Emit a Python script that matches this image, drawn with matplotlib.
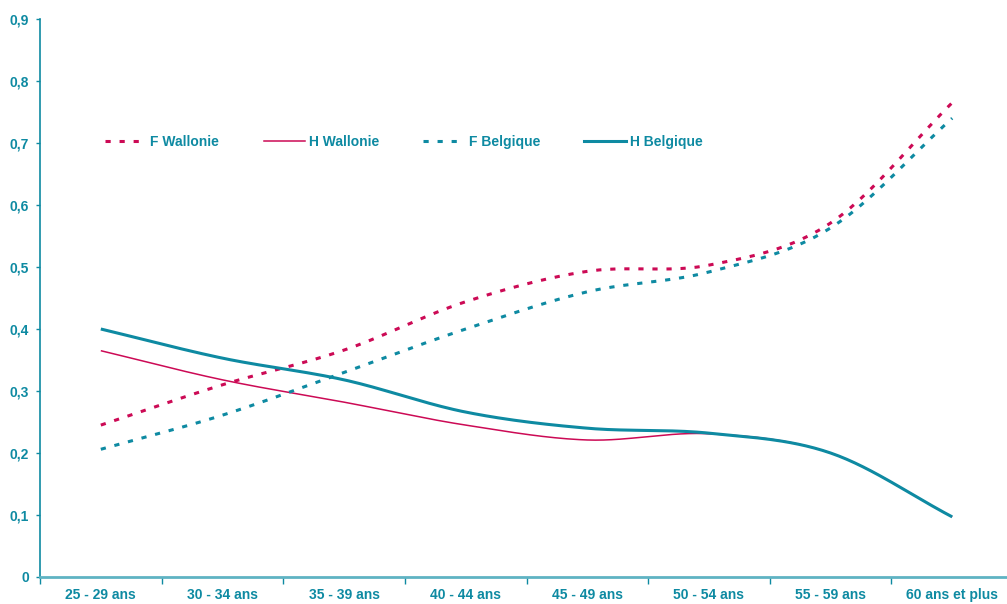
import numpy as np
import matplotlib
matplotlib.use("Agg")
import matplotlib.pyplot as plt
from matplotlib.lines import Line2D

plt.rcParams['font.family'] = ['Liberation Sans Narrow', 'Liberation Sans', 'DejaVu Sans']

# age groups and ratios per series
categories = ["25 - 29 ans", "30 - 34 ans", "35 - 39 ans", "40 - 44 ans",
              "45 - 49 ans", "50 - 54 ans", "55 - 59 ans", "60 ans et plus"]
f_wallonie = [0.245, 0.31, 0.366, 0.444, 0.493, 0.503, 0.571, 0.765]
h_wallonie = [0.365, 0.318, 0.282, 0.245, 0.221, 0.231, 0.200, 0.097]
f_belgique = [0.206, 0.261, 0.330, 0.400, 0.460, 0.492, 0.563, 0.740]
h_belgique = [0.400, 0.353, 0.318, 0.266, 0.240, 0.232, 0.200, 0.097]
y_ticks = [0, 0.1, 0.2, 0.3, 0.4, 0.5, 0.6, 0.7, 0.8, 0.9]

TEAL = "#0E8AA2"
RED = "#CC0A55"


def smooth(xs, ys, n=30):
    # Catmull-Rom curve through the points, like office chart smoothing
    p = np.column_stack([xs, ys]).astype(float)
    p = np.vstack([2 * p[0] - p[1], p, 2 * p[-1] - p[-2]])
    out = []
    t = np.linspace(0, 1, n, endpoint=False)[:, None]
    for i in range(1, len(p) - 2):
        p0, p1, p2, p3 = p[i - 1], p[i], p[i + 1], p[i + 2]
        seg = 0.5 * ((2 * p1) + (-p0 + p2) * t + (2 * p0 - 5 * p1 + 4 * p2 - p3) * t ** 2
                     + (-p0 + 3 * p1 - 3 * p2 + p3) * t ** 3)
        out.append(seg)
    out.append(p[-2][None, :])
    out = np.vstack(out)
    return out[:, 0], out[:, 1]


fig = plt.figure(figsize=(10.07, 6.04), dpi=100)
ax = fig.add_axes([40 / 1007, 27 / 604, 973 / 1007, 558 / 604])

x = np.arange(len(categories))
dash = (0, (1.7, 2.9))
series = [
    (f_wallonie, RED, 2.2, dash, "F Wallonie"),
    (h_wallonie, RED, 1.1, "-", "H Wallonie"),
    (f_belgique, TEAL, 2.2, dash, "F Belgique"),
    (h_belgique, TEAL, 2.2, "-", "H Belgique"),
]
handles = []
for ys, col, lw, ls, lab in series:
    sx, sy = smooth(x, ys)
    ax.plot(sx, sy, color=col, lw=lw, ls=ls, solid_capstyle="butt", dash_capstyle="butt")
    handles.append(Line2D([], [], color=col, lw=lw, ls=ls, label=lab))

ax.set_xlim(-0.5, len(categories) - 0.5)
ax.set_ylim(0, 0.9)
ax.set_yticks(y_ticks)
ax.set_yticklabels([("%g" % v).replace(".", ",") for v in y_ticks])

ax.set_xticks(np.arange(len(categories) + 1) - 0.5)
ax.set_xticklabels([])
ax.set_xticks(x, minor=True)
ax.set_xticklabels(categories, minor=True)
ax.tick_params(axis="x", which="minor", length=0, pad=8)
ax.tick_params(axis="x", which="major", length=5, width=1, color=TEAL, direction="out")
ax.tick_params(axis="y", length=3, width=1, color=TEAL, direction="out", pad=5)

for lab in ax.get_xticklabels(minor=True) + ax.get_yticklabels():
    lab.set_color(TEAL)
    lab.set_fontweight("bold")
    lab.set_fontsize(10)

for s in ["top", "right"]:
    ax.spines[s].set_visible(False)
ax.spines["left"].set_color(TEAL)
ax.spines["left"].set_linewidth(1.2)
ax.spines["bottom"].set_color("#5FB3C3")
ax.spines["bottom"].set_linewidth(2)

leg = ax.legend(handles=handles, ncol=4, frameon=False, loc="center left",
                bbox_to_anchor=(0.067, 0.78), handlelength=3.0, handletextpad=0.25,
                columnspacing=3.2, borderaxespad=0, borderpad=0,
                prop={"weight": "bold", "size": 10})
for t in leg.get_texts():
    t.set_color(TEAL)

fig.savefig("out.png", dpi=100)
